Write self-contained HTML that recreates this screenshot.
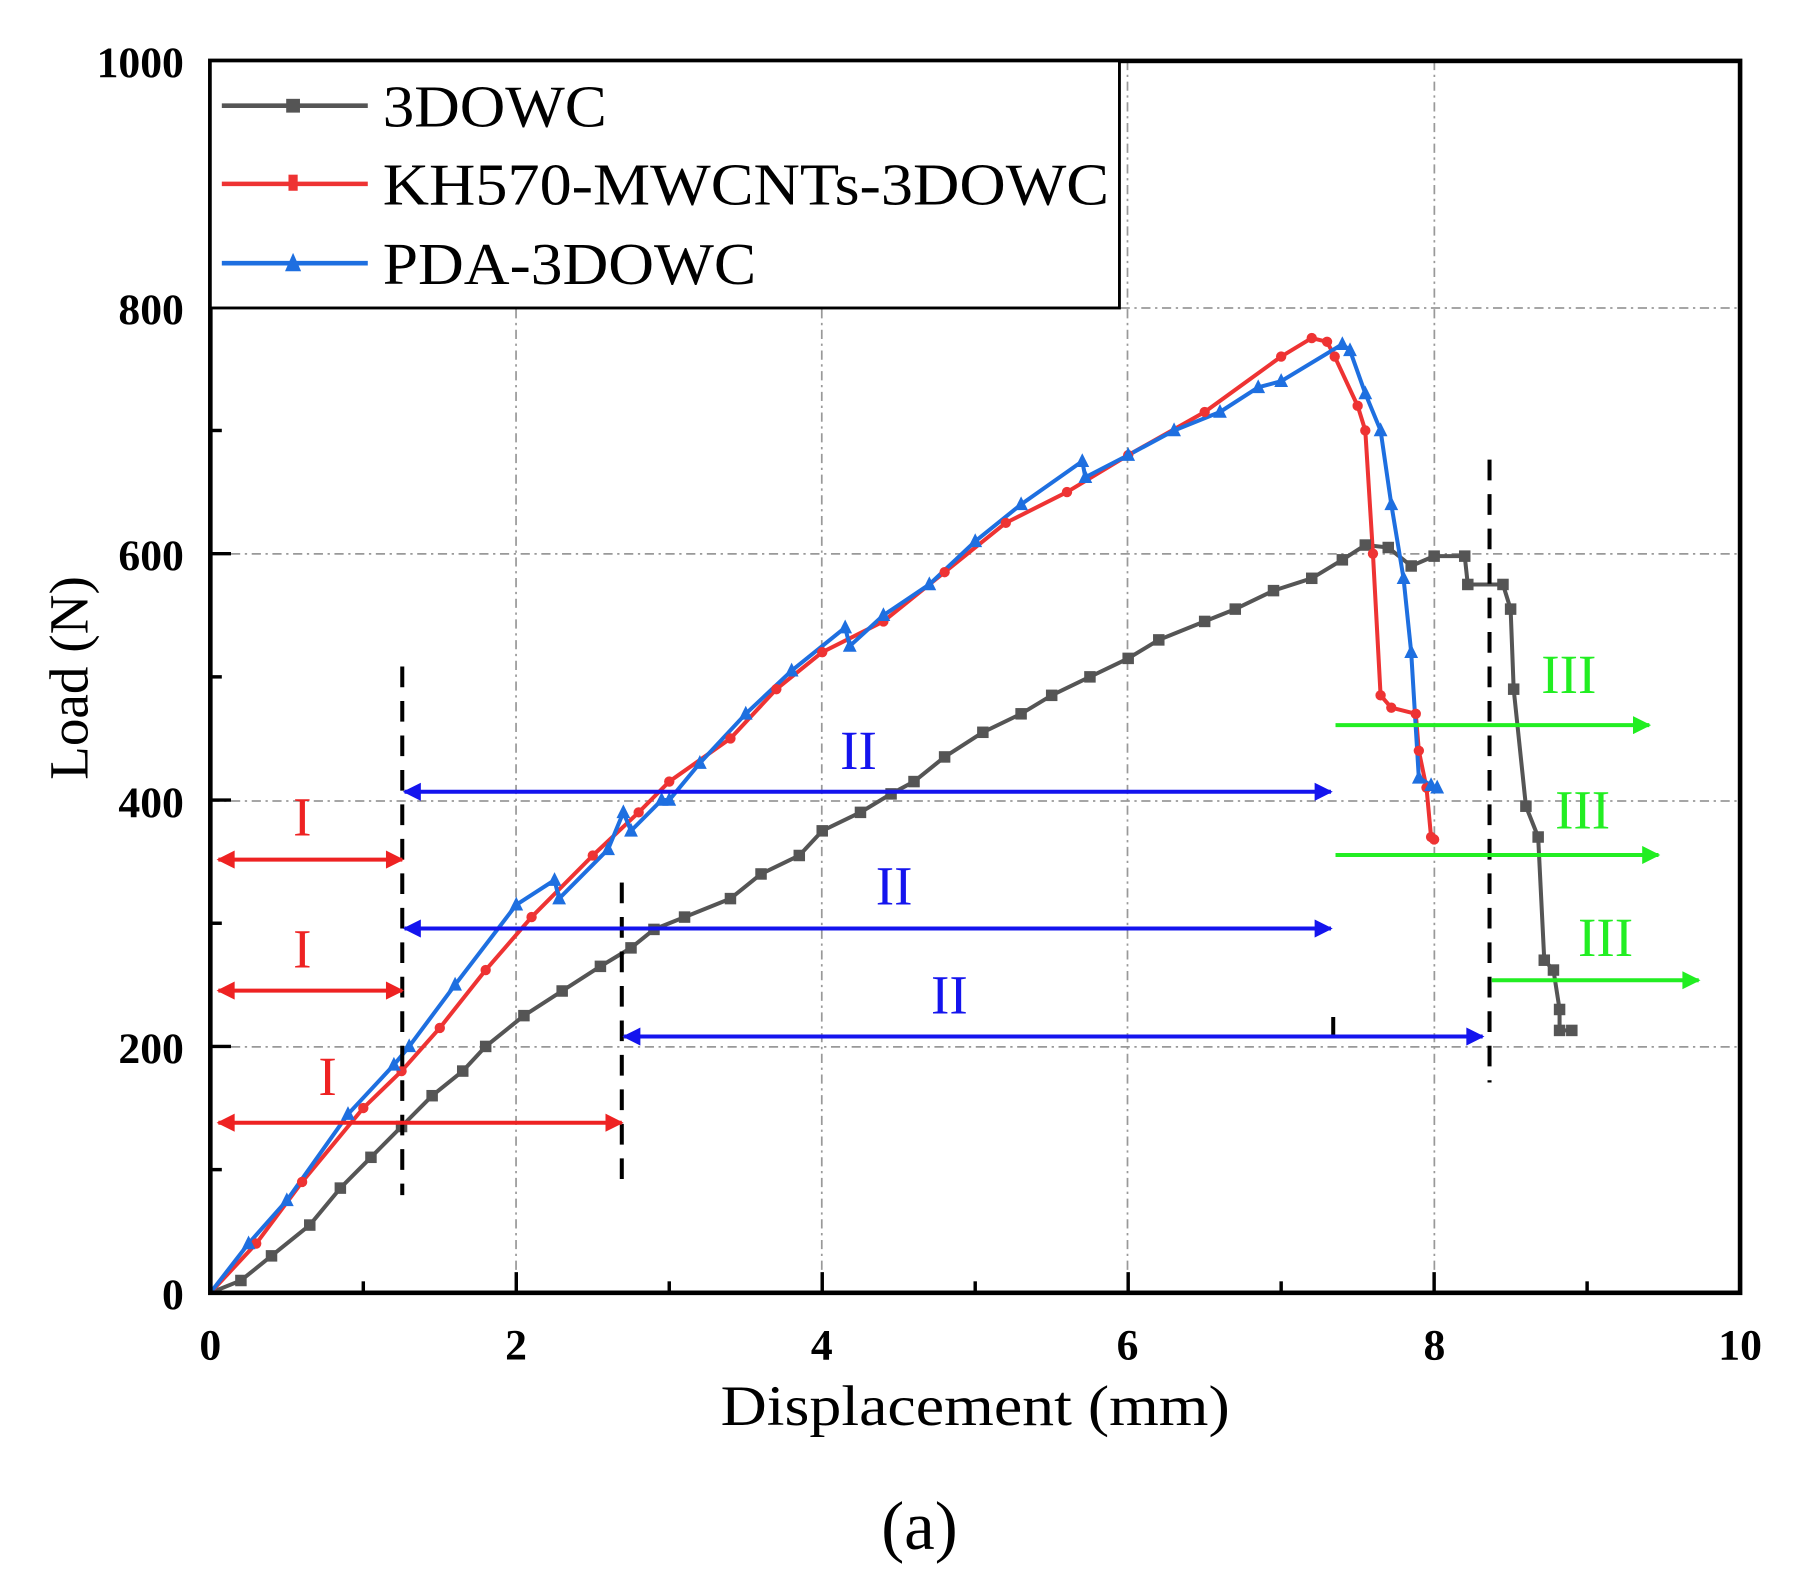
<!DOCTYPE html>
<html><head><meta charset="utf-8"><style>
html,body{margin:0;padding:0;background:#fff}
svg{display:block}
text{font-family:"Liberation Serif",serif}
</style></head><body>
<svg id="s" width="1801" height="1587" viewBox="0 0 1567 1381" preserveAspectRatio="none" xmlns="http://www.w3.org/2000/svg">
<defs>
<marker id="ar" viewBox="0 0 10 10" refX="9" refY="5" markerWidth="7" markerHeight="4.5" orient="auto-start-reverse" markerUnits="strokeWidth"><path d="M0,0 L10,5 L0,10 z" fill="context-stroke"/></marker>
</defs>
<g stroke="#999" stroke-width="1.5" stroke-dasharray="8,4,2,4" fill="none">
<line x1="449" y1="53" x2="449" y2="1125"/><line x1="715" y1="53" x2="715" y2="1125"/>
<line x1="981" y1="53" x2="981" y2="1125"/><line x1="1248" y1="53" x2="1248" y2="1125"/>
<line x1="183" y1="911" x2="1514" y2="911"/><line x1="183" y1="697" x2="1514" y2="697"/>
<line x1="183" y1="482" x2="1514" y2="482"/><line x1="183" y1="268" x2="1514" y2="268"/>
</g>
<g id="curves" fill="none" stroke-linejoin="round"></g>
<g id="ann"></g>
<rect x="183" y="53" width="1331" height="1072" fill="none" stroke="#000" stroke-width="4"/>
<g stroke="#000" stroke-width="3" id="ticks"></g>
<g font-weight="bold" font-size="38" text-anchor="end" fill="#000">
<text x="160" y="67">1000</text><text x="160" y="282">800</text><text x="160" y="496">600</text>
<text x="160" y="711">400</text><text x="160" y="925">200</text><text x="160" y="1139">0</text>
</g>
<g font-weight="bold" font-size="38" text-anchor="middle" fill="#000">
<text x="183" y="1183">0</text><text x="449" y="1183">2</text><text x="715" y="1183">4</text>
<text x="981" y="1183">6</text><text x="1248" y="1183">8</text><text x="1514" y="1183">10</text>
</g>
<text x="627" y="1240" font-size="50" textLength="443" lengthAdjust="spacingAndGlyphs">Displacement (mm)</text>
<text transform="translate(76,590) rotate(-90)" font-size="48" text-anchor="middle">Load (N)</text>
<text x="800" y="1348" font-size="60" text-anchor="middle">(a)</text>
<rect x="183" y="53" width="791" height="215" fill="#fff" stroke="#000" stroke-width="2.5"/>
<line x1="193" y1="92" x2="320" y2="92" stroke="#555" stroke-width="4"/><rect x="249" y="86" width="12" height="12" fill="#555"/>
<line x1="193" y1="160" x2="320" y2="160" stroke="#ee3333" stroke-width="4"/><rect x="251" y="152" width="8" height="14" fill="#ee3333"/>
<line x1="193" y1="229" x2="320" y2="229" stroke="#1e6fe0" stroke-width="4"/><path d="M248,236 L255,220 L262,236z" fill="#1e6fe0"/>
<g font-size="52" fill="#000"><text x="333" y="110" textLength="195" lengthAdjust="spacingAndGlyphs">3DOWC</text><text x="333" y="178" textLength="632" lengthAdjust="spacingAndGlyphs">KH570-MWCNTs-3DOWC</text><text x="333" y="247" textLength="325" lengthAdjust="spacingAndGlyphs">PDA-3DOWC</text></g>
</svg>
<script>
var X=function(v){return 183+v*133.1},Y=function(v){return 1125-v*1.072};
var ns="http://www.w3.org/2000/svg";
function el(p,t,a){var e=document.createElementNS(ns,t);for(var k in a)e.setAttribute(k,a[k]);p.appendChild(e);return e;}
var g=document.getElementById('curves');
var black=[[0,0],[0.2,10],[0.4,30],[0.65,55],[0.85,85],[1.05,110],[1.25,135],[1.45,160],[1.65,180],[1.8,200],[2.05,225],[2.3,245],[2.55,265],[2.75,280],[2.9,295],[3.1,305],[3.4,320],[3.6,340],[3.85,355],[4.0,375],[4.25,390],[4.45,405],[4.6,415],[4.8,435],[5.05,455],[5.3,470],[5.5,485],[5.75,500],[6.0,515],[6.2,530],[6.5,545],[6.7,555],[6.95,570],[7.2,580],[7.4,595],[7.55,607],[7.7,605],[7.85,590],[8.0,598],[8.2,598],[8.22,575],[8.45,575],[8.5,555],[8.52,490],[8.6,395],[8.68,370],[8.72,270],[8.78,262],[8.82,230],[8.82,213],[8.9,213]];
var red=[[0,0],[0.3,40],[0.6,90],[1.0,150],[1.25,180],[1.5,215],[1.8,262],[2.1,305],[2.5,355],[2.8,390],[3.0,415],[3.4,450],[3.7,490],[4.0,520],[4.4,545],[4.8,585],[5.2,625],[5.6,650],[6.0,680],[6.5,715],[7.0,760],[7.2,775],[7.3,772],[7.35,760],[7.5,720],[7.55,700],[7.6,600],[7.65,485],[7.72,475],[7.88,470],[7.9,440],[7.95,410],[7.98,370],[8.0,368]];
var blue=[[0,0],[0.25,40],[0.5,75],[0.9,145],[1.2,185],[1.3,200],[1.6,250],[2.0,315],[2.25,335],[2.28,320],[2.6,360],[2.7,390],[2.75,375],[2.95,400],[3.0,400],[3.2,430],[3.5,470],[3.8,505],[4.15,540],[4.18,525],[4.4,550],[4.7,575],[5.0,610],[5.3,640],[5.7,675],[5.72,662],[6.0,680],[6.3,700],[6.6,715],[6.85,735],[7.0,740],[7.4,770],[7.45,765],[7.55,730],[7.65,700],[7.72,640],[7.8,580],[7.85,520],[7.9,418],[7.98,412],[8.02,410]];
function poly(d,c,w){el(g,'polyline',{points:d.map(function(p){return X(p[0])+','+Y(p[1])}).join(' '),stroke:c,'stroke-width':w});}
poly(black,'#555',3.5);poly(red,'#ee3333',3.5);poly(blue,'#1e6fe0',3.5);
black.forEach(function(p,i){if(i>0)el(g,'rect',{x:X(p[0])-5,y:Y(p[1])-5,width:10,height:10,fill:'#555'});});
red.forEach(function(p,i){if(i>0)el(g,'circle',{cx:X(p[0]),cy:Y(p[1]),r:4.5,fill:'#ee3333'});});
blue.forEach(function(p,i){if(i>0){var x=X(p[0]),y=Y(p[1]);el(g,'path',{d:'M'+(x-6)+','+(y+5)+' L'+x+','+(y-7)+' L'+(x+6)+','+(y+5)+'z',fill:'#1e6fe0'});}});
var a=document.getElementById('ann');
[[350,580,1040],[541,768,1032],[1160,885,905],[1296,400,942]].forEach(function(v){el(a,'line',{x1:v[0],y1:v[1],x2:v[0],y2:v[2],stroke:'#000','stroke-width':3.5,'stroke-dasharray':'18,12'});});
function arr(x1,x2,y,c,both){el(a,'line',{x1:x1,y1:y,x2:x2,y2:y,stroke:c,'stroke-width':3.5,'marker-end':'url(#ar)','marker-start':both?'url(#ar)':''});}
arr(190,350,748,'#ee2222',1);arr(190,350,862,'#ee2222',1);arr(190,541,977,'#ee2222',1);
arr(352,1158,689,'#1414ee',1);arr(352,1158,808,'#1414ee',1);arr(543,1290,902,'#1414ee',1);
arr(1162,1435,631,'#22ee22');arr(1162,1443,744,'#22ee22');arr(1298,1478,853,'#22ee22');
[[263,727,'I','#ee2222'],[263,842,'I','#ee2222'],[285,953,'I','#ee2222'],[747,669,'II','#1414ee'],[778,787,'II','#1414ee'],[826,882,'II','#1414ee'],[1365,603,'III','#22ee22'],[1377,721,'III','#22ee22'],[1397,832,'III','#22ee22']].forEach(function(t){var e=el(a,'text',{x:t[0],y:t[1],fill:t[3],'font-size':48,'text-anchor':'middle'});e.textContent=t[2];});
var tk=document.getElementById('ticks');
for(var i=1;i<10;i++){var x=X(i);el(tk,'line',{x1:x,y1:1125,x2:x,y2:1125-(i%2?10:18)});}
for(var j=1;j<10;j++){var y=Y(j*100);el(tk,'line',{x1:183,y1:y,x2:183+(j%2?10:18),y2:y});}
</script>
</body></html>
